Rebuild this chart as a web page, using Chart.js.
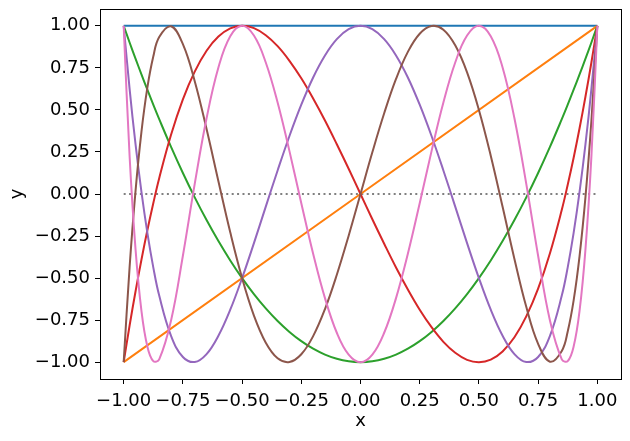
<!DOCTYPE html>
<html>
<head>
<meta charset="utf-8">
<script src="https://cdn.jsdelivr.net/npm/chart.js@4.4.1/dist/chart.umd.min.js"></script>
<style>
  html, body { margin: 0; padding: 0; background: #fff; }
  #wrap { width: 630px; height: 441px; }
</style>
</head>
<body>
<div id="wrap"><canvas id="chart" width="630" height="441"></canvas></div>
<script>
// sample grid (denser near the ends where T6 is steep)
const xs = [-1, -0.975, -0.95, -0.925, -0.9, -0.875, -0.85, -0.8, -0.75, -0.7, -0.65, -0.6, -0.55, -0.5,
  -0.45, -0.4, -0.35, -0.3, -0.25, -0.2, -0.15, -0.1, -0.05, 0, 0.05, 0.1, 0.15, 0.2, 0.25, 0.3, 0.35,
  0.4, 0.45, 0.5, 0.55, 0.6, 0.65, 0.7, 0.75, 0.8, 0.85, 0.875, 0.9, 0.925, 0.95, 0.975, 1];

// straight lines only need their end points
const xEnds = [-1, 1];
const t0 = [1, 1];
const t1 = [-1, 1];
const zeroLine = [0, 0];

const t2 = [1, 0.901, 0.805, 0.711, 0.62, 0.531, 0.445, 0.28, 0.125, -0.02, -0.155, -0.28, -0.395, -0.5,
  -0.595, -0.68, -0.755, -0.82, -0.875, -0.92, -0.955, -0.98, -0.995, -1, -0.995, -0.98, -0.955, -0.92,
  -0.875, -0.82, -0.755, -0.68, -0.595, -0.5, -0.395, -0.28, -0.155, -0.02, 0.125, 0.28, 0.445, 0.531,
  0.62, 0.711, 0.805, 0.901, 1];
const t3 = [-1, -0.782, -0.58, -0.391, -0.216, -0.055, 0.094, 0.352, 0.563, 0.728, 0.852, 0.936, 0.985, 1,
  0.986, 0.944, 0.879, 0.792, 0.688, 0.568, 0.437, 0.296, 0.15, 0, -0.15, -0.296, -0.437, -0.568, -0.688,
  -0.792, -0.879, -0.944, -0.986, -1, -0.985, -0.936, -0.852, -0.728, -0.563, -0.352, -0.094, 0.055,
  0.216, 0.391, 0.58, 0.782, 1];
const t4 = [1, 0.625, 0.296, 0.012, -0.231, -0.436, -0.604, -0.843, -0.969, -0.999, -0.952, -0.843, -0.688,
  -0.5, -0.292, -0.075, 0.14, 0.345, 0.531, 0.693, 0.824, 0.921, 0.98, 1, 0.98, 0.921, 0.824, 0.693, 0.531,
  0.345, 0.14, -0.075, -0.292, -0.5, -0.688, -0.843, -0.952, -0.999, -0.969, -0.843, -0.604, -0.436,
  -0.231, 0.012, 0.296, 0.625, 1];
const t5 = [-1, -0.435, 0.017, 0.369, 0.632, 0.817, 0.933, 0.997, 0.891, 0.671, 0.386, 0.076, -0.228, -0.5,
  -0.723, -0.884, -0.977, -0.999, -0.953, -0.845, -0.684, -0.48, -0.248, 0, 0.248, 0.48, 0.684, 0.845,
  0.953, 0.999, 0.977, 0.884, 0.723, 0.5, 0.228, -0.076, -0.386, -0.671, -0.891, -0.997, -0.933, -0.817,
  -0.632, -0.369, -0.017, 0.435, 1];
const t6 = [1, 0.224, -0.328, -0.695, -0.907, -0.994, -0.983, -0.752, -0.367, 0.06, 0.45, 0.752, 0.938, 1,
  0.942, 0.782, 0.544, 0.255, -0.055, -0.355, -0.619, -0.825, -0.955, -1, -0.955, -0.825, -0.619, -0.355,
  -0.055, 0.255, 0.544, 0.782, 0.942, 1, 0.938, 0.752, 0.45, 0.06, -0.367, -0.752, -0.983, -0.994, -0.907,
  -0.695, -0.328, 0.224, 1];

const xTicks = [-1, -0.75, -0.5, -0.25, 0, 0.25, 0.5, 0.75, 1];
const yTicks = [-1, -0.75, -0.5, -0.25, 0, 0.25, 0.5, 0.75, 1];

const colors = ['#1f77b4', '#ff7f0e', '#2ca02c', '#d62728', '#9467bd', '#8c564b', '#e377c2'];
const curves = [[xEnds, t0], [xEnds, t1], [xs, t2], [xs, t3], [xs, t4], [xs, t5], [xs, t6]];

const toPoints = (xv, yv) => xv.map((x, i) => ({ x: x, y: yv[i] }));
const fmt = v => v.toFixed(2).replace('-', '\u2212');
const font = { family: 'DejaVu Sans', size: 18 };

const datasets = [{
  data: toPoints(xEnds, zeroLine),
  borderColor: '#808080',
  borderWidth: 2,
  borderDash: [2, 3.4],
  order: 10
}];
curves.forEach(([xv, yv], i) => {
  datasets.push({
    data: toPoints(xv, yv),
    borderColor: colors[i],
    borderWidth: 2,
    tension: 0.4,
    order: 8 - i
  });
});

// matplotlib-style closed frame around the axes
const frame = {
  id: 'frame',
  afterDraw(chart) {
    const a = chart.chartArea;
    const ctx = chart.ctx;
    ctx.save();
    ctx.strokeStyle = '#000';
    ctx.lineWidth = 1;
    ctx.strokeRect(Math.round(a.left) + 0.5, Math.round(a.top) + 0.5,
      Math.round(a.right - a.left), Math.round(a.bottom - a.top));
    ctx.restore();
  }
};

new Chart(document.getElementById('chart'), {
  type: 'line',
  data: { datasets },
  plugins: [frame],
  options: {
    responsive: false,
    animation: false,
    layout: { padding: { left: 0, top: 9, right: 9, bottom: 0 } },
    elements: { point: { radius: 0 }, line: { borderCapStyle: 'butt' } },
    plugins: { legend: { display: false }, tooltip: { enabled: false } },
    scales: {
      x: {
        type: 'linear',
        min: -1.1,
        max: 1.1,
        afterBuildTicks: s => { s.ticks = xTicks.map(v => ({ value: v })); },
        afterFit: s => { s.height = 62; s.paddingLeft = 0; s.paddingRight = 0; },
        ticks: { callback: fmt, color: '#000', font, padding: 7, maxRotation: 0 },
        grid: { drawOnChartArea: false, tickLength: 5, tickColor: '#000' },
        border: { color: '#000', width: 1 },
        title: { display: true, text: 'x', color: '#000', font, padding: { top: 0, bottom: 9 } }
      },
      y: {
        type: 'linear',
        min: -1.1,
        max: 1.1,
        afterBuildTicks: s => { s.ticks = yTicks.map(v => ({ value: v })); },
        afterFit: s => { s.width = 100; s.paddingTop = 0; s.paddingBottom = 0; },
        ticks: { callback: fmt, color: '#000', font, padding: 5 },
        grid: { drawOnChartArea: false, tickLength: 5, tickColor: '#000' },
        border: { color: '#000', width: 1 },
        title: { display: true, text: 'y', color: '#000', font, padding: { top: 7, bottom: 0 } }
      }
    }
  }
});
</script>
</body>
</html>
